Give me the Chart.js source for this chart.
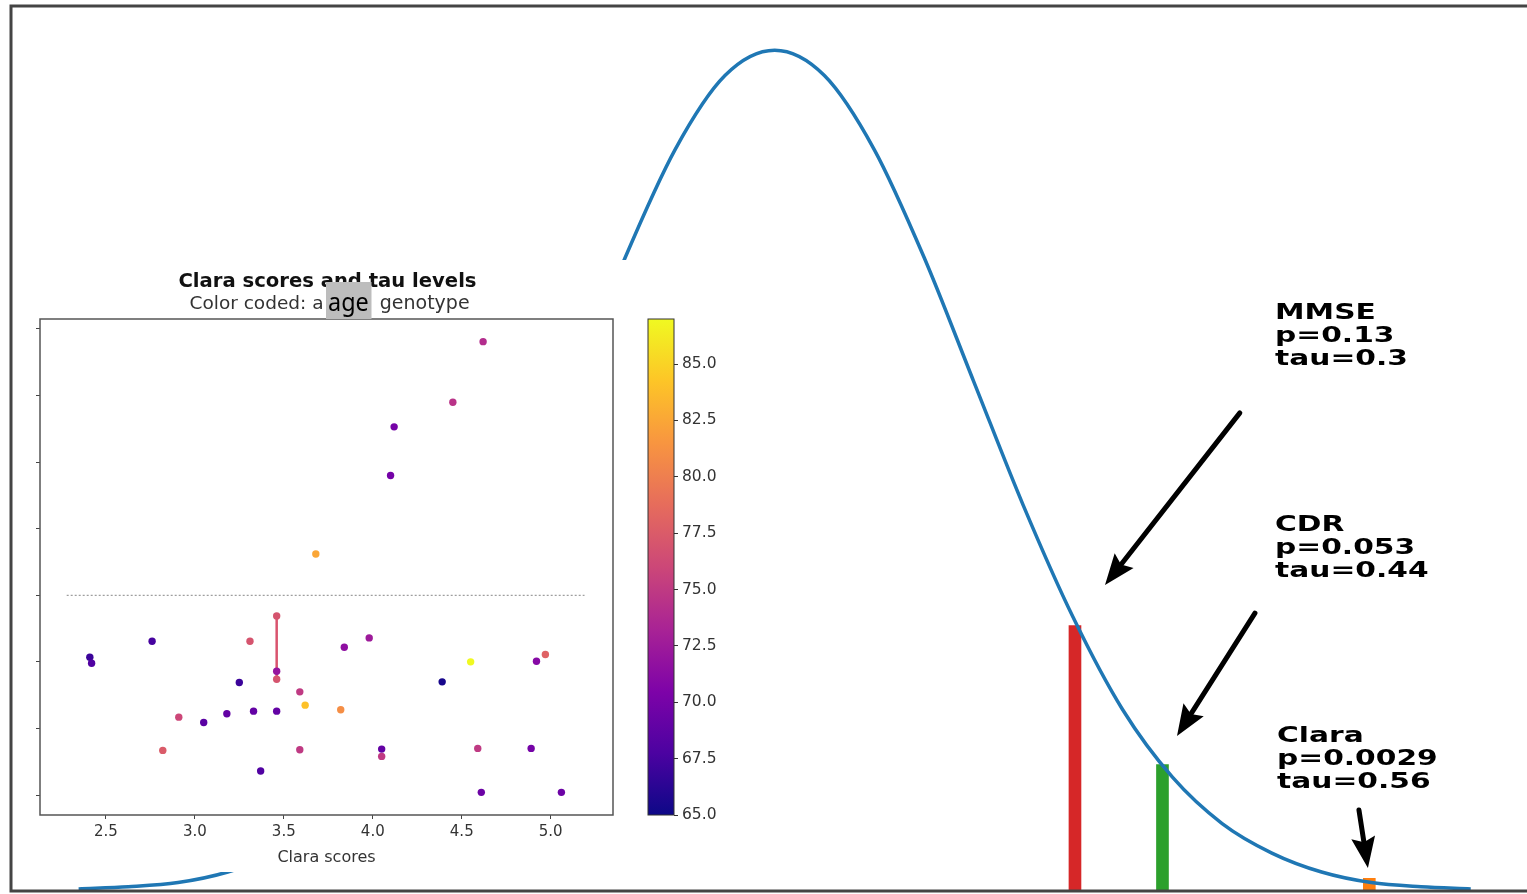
<!DOCTYPE html>
<html>
<head>
<meta charset="utf-8">
<script src="https://cdn.jsdelivr.net/npm/chart.js@4.4.1/dist/chart.umd.min.js"></script>
<style>
  html, body { margin: 0; padding: 0; background: #fff; overflow: hidden; }
  #wrap { position: relative; width: 1527px; height: 894px; overflow: hidden; }
  #main { position: absolute; left: 0; top: 0; }
  #inset { position: absolute; left: 20px; top: 260px; width: 710px; height: 612px; background: #fff; }
  #scatter { position: absolute; left: 10px; top: 2px; }
  #cbar { position: absolute; left: 620px; top: 40px; }
</style>
</head>
<body>
<div id="wrap">
  <canvas id="main" width="1600" height="894"></canvas>
  <div id="inset">
    <canvas id="scatter" width="600" height="610"></canvas>
    <canvas id="cbar" width="100" height="530"></canvas>
  </div>
</div>
<script>
// null distribution (z)
var zVals = [-3.5, -3.25, -3, -2.75, -2.5, -2.25, -2, -1.75, -1.5, -1.25, -1, -0.75, -0.5, -0.25, 0,
             0.25, 0.5, 0.75, 1, 1.25, 1.5, 1.75, 2, 2.25, 2.5, 2.75, 3, 3.25, 3.5];
var density = [0.001, 0.002, 0.004, 0.009, 0.018, 0.032, 0.054, 0.086, 0.130, 0.183, 0.242, 0.301, 0.352, 0.387, 0.399,
               0.387, 0.352, 0.301, 0.242, 0.183, 0.130, 0.086, 0.054, 0.032, 0.018, 0.009, 0.004, 0.002, 0.001];

// the three tests
var testNames = ["MMSE", "CDR", "Clara"];
var testZ = [1.51, 1.95, 2.99];
var testDensity = [0.126, 0.060, 0.006];
var testP = ["0.13", "0.053", "0.0029"];
var testTau = ["0.3", "0.44", "0.56"];

// inset scatter
var claraScores = [2.41, 2.42, 2.76, 2.91, 2.82, 3.05, 3.18, 3.25, 3.31, 3.33, 3.37, 3.46, 3.46, 3.46, 3.46, 3.59, 3.62, 3.59,
                   3.82, 3.84, 3.98, 4.05, 4.05, 4.39, 4.55, 4.59, 4.61, 4.89, 4.92, 4.97, 5.06, 4.62, 4.45, 4.12, 4.10, 3.68];
var tauLevels = [2.07, 1.98, 2.31, 1.17, 0.67, 1.09, 1.22, 1.69, 2.31, 1.26, 0.36, 2.69, 1.86, 1.74, 1.26, 1.55, 1.35, 0.68,
                 1.28, 2.22, 2.36, 0.69, 0.58, 1.70, 2.00, 0.70, 0.04, 0.70, 2.01, 2.11, 0.04, 6.81, 5.90, 5.53, 4.80, 3.62];
var ages = [67, 68, 67.5, 76, 77.5, 68.5, 69, 67, 77, 69, 68, 77, 72, 77, 69, 75, 84, 75,
            81, 71.5, 72.5, 69, 75, 65.5, 87, 75, 69.5, 70, 71, 78, 69.5, 74, 74.5, 70, 70, 82.5];
var pairX = [3.46, 3.46];
var pairTau = [2.69, 1.74];
var threshX = [2.28, 5.19];
var threshTau = [3, 3];
var xTicks = [2.5, 3.0, 3.5, 4.0, 4.5, 5.0];
var yTicks = [0, 1, 2, 3, 4, 5, 6, 7];
var ageTicks = [65, 67.5, 70, 72.5, 75, 77.5, 80, 82.5, 85];

var ageMin = 65, ageMax = 87;
var plasma = ["#0d0887", "#4c02a1", "#7e03a8", "#a92395", "#cc4778", "#e66c5c", "#f89540", "#fdc527", "#f0f921"];

function hexRgb(h) {
  return [parseInt(h.substr(1, 2), 16), parseInt(h.substr(3, 2), 16), parseInt(h.substr(5, 2), 16)];
}
function plasmaColor(v) {
  var t = Math.max(0, Math.min(1, (v - ageMin) / (ageMax - ageMin))) * (plasma.length - 1);
  var i = Math.min(Math.floor(t), plasma.length - 2);
  var f = t - i;
  var a = hexRgb(plasma[i]), b = hexRgb(plasma[i + 1]);
  return "rgb(" + Math.round(a[0] + (b[0] - a[0]) * f) + "," + Math.round(a[1] + (b[1] - a[1]) * f) + "," +
         Math.round(a[2] + (b[2] - a[2]) * f) + ")";
}

// annotation placement in data units of the big chart
var labelAt = [[2.516, 0.2715], [2.516, 0.1709], [2.526, 0.0707]];
var arrowFrom = [[2.339, 0.2269], [2.415, 0.1319], [2.938, 0.0384]];
var arrowTo = [[1.661, 0.1452], [2.023, 0.0736], [2.983, 0.0109]];

function drawArrow(ctx, x1, y1, x2, y2) {
  var ang = Math.atan2(y2 - y1, x2 - x1);
  var c = Math.cos(ang), s = Math.sin(ang);
  var headLen = 31, headW = 12;
  var bx = x2 - headLen * c, by = y2 - headLen * s;
  ctx.lineWidth = 5;
  ctx.lineCap = "round";
  ctx.beginPath();
  ctx.moveTo(x1, y1);
  ctx.lineTo(bx + 4 * c, by + 4 * s);
  ctx.stroke();
  ctx.beginPath();
  ctx.moveTo(x2, y2);
  ctx.lineTo(bx - headW * s, by + headW * c);
  ctx.lineTo(bx + 5 * c, by + 5 * s);
  ctx.lineTo(bx + headW * s, by - headW * c);
  ctx.closePath();
  ctx.fill();
}

var mainDecor = {
  id: "mainDecor",
  afterDraw: function(chart) {
    var ctx = chart.ctx, a = chart.chartArea;
    var xs = chart.scales.x, ys = chart.scales.y;
    ctx.save();
    ctx.fillStyle = "#000";
    ctx.strokeStyle = "#000";
    for (var i = 0; i < testNames.length; i++) {
      drawArrow(ctx, xs.getPixelForValue(arrowFrom[i][0]), ys.getPixelForValue(arrowFrom[i][1]),
                xs.getPixelForValue(arrowTo[i][0]), ys.getPixelForValue(arrowTo[i][1]));
      var lines = [testNames[i], "p=" + testP[i], "tau=" + testTau[i]];
      var px = xs.getPixelForValue(labelAt[i][0]), py = ys.getPixelForValue(labelAt[i][1]);
      ctx.font = 'bold 22px "DejaVu Sans"';
      ctx.textAlign = "left";
      ctx.textBaseline = "alphabetic";
      for (var j = 0; j < lines.length; j++) {
        ctx.save();
        ctx.translate(px, py + j * 23);
        ctx.scale(1.35, 1);
        ctx.fillText(lines[j], 0, 0);
        ctx.restore();
      }
    }
    // frame: left, top, bottom
    ctx.strokeStyle = "#444";
    ctx.lineWidth = 3;
    ctx.lineCap = "butt";
    ctx.beginPath();
    ctx.moveTo(chart.width, a.top);
    ctx.lineTo(a.left, a.top);
    ctx.lineTo(a.left, a.bottom);
    ctx.lineTo(chart.width, a.bottom);
    ctx.stroke();
    ctx.restore();
  }
};

new Chart(document.getElementById("main"), {
  type: "line",
  data: {
    datasets: [
      {
        type: "line",
        data: zVals.map(function(z, i) { return {x: z, y: density[i]}; }),
        borderColor: "#1f77b4",
        borderWidth: 3.5,
        pointRadius: 0,
        cubicInterpolationMode: "monotone",
        fill: false,
        order: 0
      },
      {
        type: "bar",
        data: testZ.map(function(z, i) { return {x: z, y: testDensity[i]}; }),
        backgroundColor: ["#d62728", "#2ca02c", "#ff7f0e"],
        barThickness: 12,
        order: 1
      }
    ]
  },
  options: {
    responsive: false,
    animation: false,
    layout: {padding: {left: 11, top: 6, right: 0, bottom: 3}},
    plugins: {legend: {display: false}, tooltip: {enabled: false}},
    scales: {
      x: {type: "linear", min: -3.84, max: 4.15, display: false, offset: false},
      y: {type: "linear", min: 0, max: 0.42, display: false}
    }
  },
  plugins: [mainDecor]
});

var insetDecor = {
  id: "insetDecor",
  afterDraw: function(chart) {
    var ctx = chart.ctx, a = chart.chartArea;
    ctx.save();
    ctx.strokeStyle = "#555";
    ctx.lineWidth = 1.5;
    ctx.strokeRect(a.left, a.top, a.right - a.left, a.bottom - a.top);
    ctx.fillStyle = "#111";
    ctx.textBaseline = "alphabetic";
    ctx.textAlign = "center";
    ctx.font = 'bold 19.6px "DejaVu Sans"';
    ctx.fillText("Clara scores and tau levels", 297.5, 25);
    ctx.fillStyle = "#333";
    ctx.font = '18.5px "DejaVu Sans"';
    ctx.textAlign = "left";
    ctx.fillText("Color coded: a", 159.5, 47);
    ctx.font = '19px "DejaVu Sans"';
    ctx.textAlign = "right";
    ctx.fillText("genotype", 439.6, 47);
    ctx.fillStyle = "#bdbdbd";
    ctx.fillRect(296, 20, 45.5, 37);
    ctx.fillStyle = "#000";
    ctx.textAlign = "left";
    ctx.save();
    ctx.translate(298, 49);
    ctx.scale(0.9, 1);
    ctx.font = '26px "Noto Sans"';
    ctx.fillText("age", 0, 0);
    ctx.restore();
    ctx.restore();
  }
};

new Chart(document.getElementById("scatter"), {
  type: "scatter",
  data: {
    datasets: [
      {
        data: claraScores.map(function(c, i) { return {x: c, y: tauLevels[i]}; }),
        backgroundColor: ages.map(plasmaColor),
        borderWidth: 0,
        pointRadius: 3.7
      },
      {
        type: "line",
        data: pairX.map(function(c, i) { return {x: c, y: pairTau[i]}; }),
        borderColor: "#d9546e",
        borderWidth: 2.5,
        pointRadius: 0,
        showLine: true
      },
      {
        type: "line",
        data: threshX.map(function(c, i) { return {x: c, y: threshTau[i]}; }),
        borderColor: "#888",
        borderWidth: 1,
        borderDash: [2, 2],
        pointRadius: 0,
        showLine: true
      }
    ]
  },
  options: {
    responsive: false,
    animation: false,
    layout: {padding: {left: 6, top: 57, right: 17, bottom: 0}},
    plugins: {legend: {display: false}, tooltip: {enabled: false}},
    scales: {
      x: {
        type: "linear", min: 2.13, max: 5.35,
        afterBuildTicks: function(s) { s.ticks = xTicks.map(function(v) { return {value: v}; }); },
        afterFit: function(s) { s.height = 57; },
        ticks: {color: "#333", font: {family: "DejaVu Sans", size: 15}, padding: 4,
                callback: function(v) { return v.toFixed(1); }},
        grid: {drawOnChartArea: false, drawTicks: true, tickLength: 4, color: "#444"},
        border: {display: false},
        title: {display: true, text: "Clara scores", color: "#333",
                font: {family: "DejaVu Sans", size: 16}, padding: {top: 0, bottom: 5}}
      },
      y: {
        type: "linear", min: -0.3, max: 7.15,
        afterBuildTicks: function(s) { s.ticks = yTicks.map(function(v) { return {value: v}; }); },
        afterFit: function(s) { s.width = 4; },
        ticks: {display: false},
        grid: {drawOnChartArea: false, drawTicks: true, tickLength: 4, color: "#444"},
        border: {display: false}
      }
    }
  },
  plugins: [insetDecor]
});

var cbarFill = {
  id: "cbarFill",
  beforeDraw: function(chart) {
    var ctx = chart.ctx, a = chart.chartArea;
    var g = ctx.createLinearGradient(0, a.bottom, 0, a.top);
    plasma.forEach(function(c, i) { g.addColorStop(i / (plasma.length - 1), c); });
    ctx.save();
    ctx.fillStyle = g;
    ctx.fillRect(a.left, a.top, a.right - a.left, a.bottom - a.top);
    ctx.restore();
  },
  afterDraw: function(chart) {
    var ctx = chart.ctx, a = chart.chartArea;
    ctx.save();
    ctx.strokeStyle = "#333";
    ctx.lineWidth = 1;
    ctx.strokeRect(a.left, a.top, a.right - a.left, a.bottom - a.top);
    ctx.restore();
  }
};

new Chart(document.getElementById("cbar"), {
  type: "scatter",
  data: {datasets: []},
  options: {
    responsive: false,
    animation: false,
    layout: {padding: {left: 8, top: 19, right: 0, bottom: 15}},
    plugins: {legend: {display: false}, tooltip: {enabled: false}},
    scales: {
      x: {type: "linear", min: 0, max: 1, display: false},
      y: {
        type: "linear", position: "right", min: ageMin, max: ageMax,
        afterBuildTicks: function(s) { s.ticks = ageTicks.map(function(v) { return {value: v}; }); },
        afterFit: function(s) { s.width = 66; },
        ticks: {color: "#333", font: {family: "DejaVu Sans", size: 15.5}, padding: 4,
                callback: function(v) { return v.toFixed(1); }},
        grid: {drawOnChartArea: false, drawTicks: true, tickLength: 4, color: "#333"},
        border: {display: false}
      }
    }
  },
  plugins: [cbarFill]
});
</script>
</body>
</html>
